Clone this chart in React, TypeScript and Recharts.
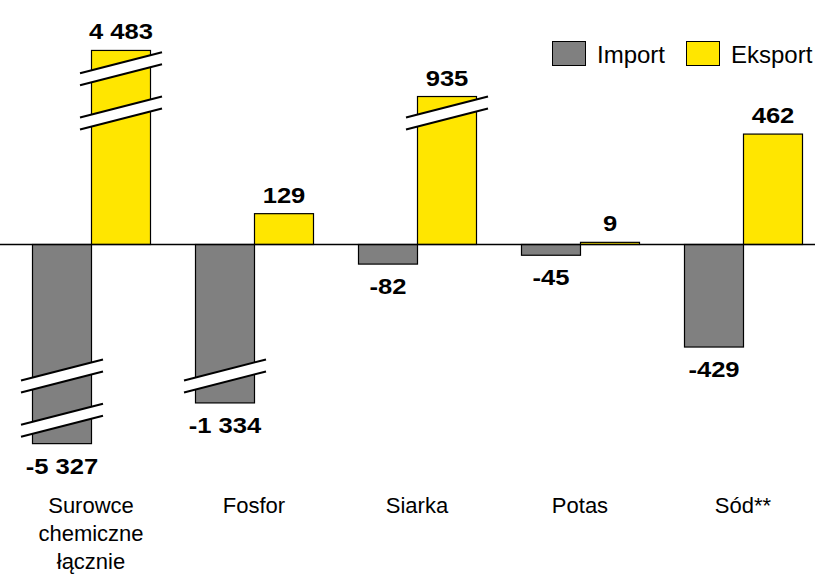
import React from 'react';
import { BarChart, Bar, XAxis, YAxis, ReferenceLine, Legend, LabelList } from 'recharts';

// Category names (line breaks mark wrapped axis labels)
const categories = ['Surowce\nchemiczne\nłącznie', 'Fosfor', 'Siarka', 'Potas', 'Sód**'];
// Saldo components per category
const importValues = [-5327, -1334, -82, -45, -429];
const exportValues = [4483, 129, 935, 9, 462];
const seriesNames = ['Import', 'Eksport'];

const IMPORT_COLOR = '#808080';
const EXPORT_COLOR = '#FFE600';
const FONT = '"Liberation Sans", Arial, Helvetica, sans-serif';

const CHART_W = 815;
const CHART_H = 574;

// Broken value axis: linear up to BREAK_FROM, logarithmic above it.
const BREAK_FROM = 555;
const BREAK_RATE = 123;
// Axis levels (in compressed units) where break marks are drawn.
const BREAK_LEVELS = [550, 735];

const compress = (v: number) => {
  const a = Math.abs(v);
  const c = a <= BREAK_FROM ? a : BREAK_FROM + BREAK_RATE * Math.log(a / BREAK_FROM);
  return Math.sign(v) * c;
};

const data = categories.map((name, i) => ({
  name,
  imp: importValues[i],
  exp: exportValues[i],
}));

const fmt = (v: number) => {
  const s = String(Math.abs(v)).replace(/\B(?=(\d{3})+(?!\d))/g, ' ');
  return v < 0 ? '-' + s : s;
};

// Bar with optional slanted break marks
const BrokenBar = (props: any) => {
  const { x, y, width, height, fill, payload, rawKey } = props;
  const raw = Number(payload[rawKey]);
  const disp = Math.abs(compress(raw));
  const top = Math.min(y, y + height);
  const bottom = Math.max(y, y + height);
  const h = bottom - top;
  const positive = raw >= 0;
  const zeroY = positive ? bottom : top;
  const ppu = disp > 0 ? h / disp : 0;
  const cx = x + width / 2;
  const half = 41;
  const rise = 10.5;
  const gap = 6;
  const marks = BREAK_LEVELS.filter((lv) => disp > lv + 20).map((lv, i) => {
    const yb = positive ? zeroY - lv * ppu : zeroY + lv * ppu;
    const xl = cx - half;
    const xr = cx + half;
    return (
      <g key={i}>
        <polygon
          points={`${xl},${yb + rise - gap} ${xr},${yb - rise - gap} ${xr},${yb - rise + gap} ${xl},${yb + rise + gap}`}
          fill="#fff"
        />
        <line x1={xl} y1={yb + rise - gap} x2={xr} y2={yb - rise - gap} stroke="#000" strokeWidth={2} />
        <line x1={xl} y1={yb + rise + gap} x2={xr} y2={yb - rise + gap} stroke="#000" strokeWidth={2} />
      </g>
    );
  });
  return (
    <g>
      <rect x={x} y={top} width={width} height={h} fill={fill} stroke="#000" strokeWidth={1.2} />
      {marks}
    </g>
  );
};

const makeValueLabel = (values: number[]) => (props: any) => {
  const vb = props.viewBox && props.viewBox.width != null ? props.viewBox : props;
  const { x, y, width, height } = vb;
  const v = values[props.index];
  const top = Math.min(y, y + height);
  const bottom = Math.max(y, y + height);
  const cx = x + width / 2;
  const by = v >= 0 ? top - 11 : bottom + 30;
  return (
    <text
      transform={`translate(${cx},${by}) scale(1.19,1)`}
      textAnchor="middle"
      fontFamily={FONT}
      fontWeight="bold"
      fontSize={21.5}
      fill="#000"
    >
      {fmt(v)}
    </text>
  );
};

const CategoryTick = ({ x, y, payload }: any) => {
  const lines = String(payload.value).split('\n');
  return (
    <text x={x} y={y} textAnchor="middle" fontFamily={FONT} fontSize={22} fill="#000">
      {lines.map((l, i) => (
        <tspan key={i} x={x} dy={i === 0 ? 29.5 : 28}>
          {l}
        </tspan>
      ))}
    </text>
  );
};

const LegendContent = ({ payload }: any) => {
  const items = [...(payload || [])].sort(
    (a: any, b: any) => seriesNames.indexOf(a.value) - seriesNames.indexOf(b.value)
  );
  return (
    <div style={{ display: 'flex', alignItems: 'center', fontFamily: FONT, fontSize: 24, lineHeight: '24px' }}>
      {items.map((entry: any, i: number) => (
        <div key={i} style={{ display: 'flex', alignItems: 'center', marginLeft: i === 0 ? 0 : 21 }}>
          <div
            style={{
              width: 34,
              height: 25,
              boxSizing: 'border-box',
              border: '1.5px solid #000',
              background: entry.color,
            }}
          />
          <span style={{ marginLeft: 11, marginTop: 3, color: '#000' }}>{entry.value}</span>
        </div>
      ))}
    </div>
  );
};

export default function App() {
  return (
    <div style={{ width: CHART_W, height: CHART_H, background: '#fff' }}>
      <style>{'body{margin:0;background:#fff}'}</style>
      <BarChart
        width={CHART_W}
        height={CHART_H}
        data={data}
        margin={{ top: 5.5, right: -9.5, bottom: 10.5, left: 9.5 }}
        barGap={0}
      >
        <XAxis
          dataKey="name"
          axisLine={false}
          tickLine={false}
          tickSize={0}
          tickMargin={0}
          interval={0}
          height={80}
          tick={<CategoryTick />}
        />
        <YAxis type="number" domain={[-1000, 1000]} hide allowDataOverflow />
        <ReferenceLine
          y={0}
          shape={(p: any) => (
            <line x1={0} x2={CHART_W} y1={p.y1} y2={p.y2} stroke="#000" strokeWidth={1.3} />
          )}
        />
        <Legend
          layout="vertical"
          verticalAlign="middle"
          align="center"
          wrapperStyle={{ top: 40, left: 552, width: 270, height: 25 }}
          content={<LegendContent />}
        />
        <Bar
          name={seriesNames[0]}
          dataKey={(d: any) => compress(d.imp)}
          fill={IMPORT_COLOR}
          barSize={59}
          isAnimationActive={false}
          shape={(p: any) => <BrokenBar {...p} rawKey="imp" />}
        >
          <LabelList dataKey="imp" content={makeValueLabel(importValues)} />
        </Bar>
        <Bar
          name={seriesNames[1]}
          dataKey={(d: any) => compress(d.exp)}
          fill={EXPORT_COLOR}
          barSize={59}
          isAnimationActive={false}
          shape={(p: any) => <BrokenBar {...p} rawKey="exp" />}
        >
          <LabelList dataKey="exp" content={makeValueLabel(exportValues)} />
        </Bar>
      </BarChart>
    </div>
  );
}
